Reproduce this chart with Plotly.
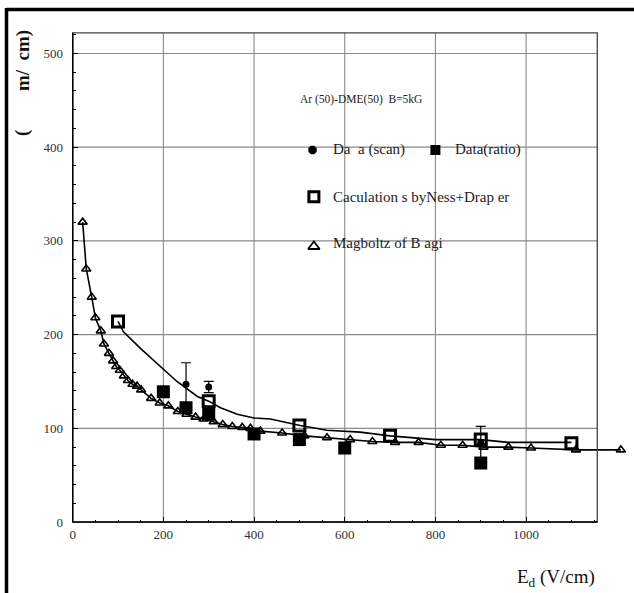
import plotly.graph_objects as go

# ---------------- data ----------------
mag_x = [22, 30, 42, 50, 62, 69, 80, 89, 96, 104, 113, 122, 132, 142, 151, 173, 192, 211,
         232, 251, 271, 289, 311, 331, 352, 374, 392, 414, 462, 511, 561, 612, 661, 711,
         763, 812, 860, 906, 961, 1011, 1110, 1209]
mag_y = [320, 270, 240, 218, 204, 190, 180, 172, 166, 162, 156, 151, 147, 145, 141, 132, 127, 124,
         118, 115, 112, 110, 107, 104, 102, 101, 100, 97, 95, 92, 90, 88, 86, 85,
         85, 82, 82, 80, 80, 79, 77, 77]

calc_curve_x = [100, 112, 150, 194, 230, 275, 300, 326, 363, 400, 436, 502, 561, 634, 700, 800, 900, 960, 1100]
calc_curve_y = [214, 203, 185, 166, 150, 134, 129, 122, 115, 111, 110, 103, 98, 96, 92, 88, 88, 85, 85]
calc_x = [100, 300, 500, 700, 900, 1100]
calc_y = [214, 129, 103, 92, 88, 84]

ratio_x = [200, 250, 300, 400, 500, 600, 900]
ratio_y = [139, 122, 115, 94, 88, 79, 63]

scan_x = [250, 300, 900]
scan_y = [147, 144, 85]
scan_err = [23, 6, 17]

x_ticks = [0, 200, 400, 600, 800, 1000]
y_ticks = [0, 100, 200, 300, 400, 500]
x_minor = list(range(0, 1151, 50))
y_minor = list(range(0, 521, 20))

X_FRAME = 1157
Y_FRAME = 522

SERIF = "'Liberation Serif', 'DejaVu Serif', serif"

fig = go.Figure()

fig.add_trace(go.Scatter(
    x=mag_x, y=mag_y, mode="lines+markers",
    line=dict(color="black", width=1.6),
    marker=dict(symbol="triangle-up-open", size=8, color="black", line=dict(width=1.6)),
    cliponaxis=False, showlegend=False))

fig.add_trace(go.Scatter(
    x=calc_curve_x, y=calc_curve_y, mode="lines",
    line=dict(color="black", width=1.6), showlegend=False))

fig.add_trace(go.Scatter(
    x=calc_x, y=calc_y, mode="markers",
    marker=dict(symbol="square-open", size=11, color="black", line=dict(width=3)),
    showlegend=False))

fig.add_trace(go.Scatter(
    x=ratio_x, y=ratio_y, mode="markers",
    marker=dict(symbol="square", size=13, color="black"),
    showlegend=False))

fig.add_trace(go.Scatter(
    x=scan_x, y=scan_y, mode="markers",
    marker=dict(symbol="circle", size=7, color="black"),
    error_y=dict(type="data", array=scan_err, color="black", thickness=1.2, width=5),
    showlegend=False))

# legend keys (drawn inside the plot like the original)
legend_keys = [
    dict(x=529, y=397, symbol="octagon", size=9, lw=0),
    dict(x=800, y=397, symbol="square", size=10, lw=0),
    dict(x=532, y=347, symbol="square-open", size=10, lw=3),
    dict(x=532, y=294, symbol="triangle-up-open", size=10, lw=1.8),
]
for k in legend_keys:
    fig.add_trace(go.Scatter(
        x=[k["x"]], y=[k["y"]], mode="markers",
        marker=dict(symbol=k["symbol"], size=k["size"], color="black", line=dict(width=k["lw"], color="black")),
        showlegend=False, hoverinfo="skip"))

shapes = []
for xv in x_ticks[1:]:
    shapes.append(dict(type="line", xref="x", yref="y", x0=xv, x1=xv, y0=0, y1=Y_FRAME,
                       line=dict(color="#8a8a8a", width=1.1), layer="below"))
for yv in y_ticks[1:]:
    shapes.append(dict(type="line", xref="x", yref="y", x0=0, x1=X_FRAME, y0=yv, y1=yv,
                       line=dict(color="#8a8a8a", width=1.1), layer="below"))
# plot frame
shapes.append(dict(type="rect", xref="x", yref="y", x0=0, x1=X_FRAME, y0=0, y1=Y_FRAME,
                   line=dict(color="#444444", width=1.3), layer="above"))
shapes.append(dict(type="line", xref="x", yref="y", x0=0, x1=X_FRAME, y0=0, y1=0,
                   line=dict(color="black", width=1.6), layer="above"))
shapes.append(dict(type="line", xref="x", yref="y", x0=0, x1=0, y0=0, y1=Y_FRAME,
                   line=dict(color="black", width=1.6), layer="above"))
# outer page frame (top and left thick lines)
L, T = 72, 30
W, H = 634 - 72, 593 - 30 - 70
def px(xp):
    return (xp - L) / W
def py(yp):
    return (593 - 70 - yp) / H
shapes.append(dict(type="line", xref="paper", yref="paper", x0=px(6.5), x1=px(640), y0=py(9.5), y1=py(9.5),
                   line=dict(color="black", width=3.5)))
shapes.append(dict(type="line", xref="paper", yref="paper", x0=px(6.5), x1=px(6.5), y0=py(8), y1=py(600),
                   line=dict(color="black", width=3.5)))

LEG = dict(family=SERIF, size=15, color="#222")
annotations = [
    dict(x=498, y=451, xref="x", yref="y", text="Ar (50)-DME(50)  B=5kG", showarrow=False,
         xanchor="left", yanchor="middle", font=dict(family=SERIF, size=11.5, color="#222")),
    dict(x=570, y=397, xref="x", yref="y", text="Da  a (scan)", showarrow=False,
         xanchor="left", yanchor="middle", font=LEG),
    dict(x=839, y=397, xref="x", yref="y", text="Data(ratio)", showarrow=False,
         xanchor="left", yanchor="middle", font=LEG),
    dict(x=570, y=347, xref="x", yref="y", text="Caculation s byNess+Drap er", showarrow=False,
         xanchor="left", yanchor="middle", font=LEG),
    dict(x=570, y=298, xref="x", yref="y", text="Magboltz of B agi", showarrow=False,
         xanchor="left", yanchor="middle", font=LEG),
    dict(x=px(597), y=py(578), xref="paper", yref="paper", text="E<sub>d</sub> (V/cm)", showarrow=False,
         xanchor="right", yanchor="middle", font=dict(family=SERIF, size=19, color="#111")),
    dict(x=px(23), y=py(61), xref="paper", yref="paper", text="<b>m/  cm)</b>", showarrow=False,
         textangle=-90, xanchor="center", yanchor="middle", font=dict(family=SERIF, size=19, color="#111")),
    dict(x=px(22), y=py(133), xref="paper", yref="paper", text="<b>(</b>", showarrow=False,
         textangle=-90, xanchor="center", yanchor="middle", font=dict(family=SERIF, size=19, color="#111")),
]

fig.update_layout(
    width=634, height=593,
    margin=dict(l=L, r=0, t=T, b=70),
    paper_bgcolor="white", plot_bgcolor="white",
    showlegend=False,
    font=dict(family=SERIF),
    shapes=shapes, annotations=annotations,
    xaxis=dict(range=[-1.5, 1238], showgrid=False, zeroline=False, showline=False,
               tickmode="array", tickvals=x_ticks, ticktext=[str(v) for v in x_ticks],
               ticks="inside", ticklen=6, tickwidth=1, tickcolor="black",
               minor=dict(tickmode="array", tickvals=x_minor, ticks="inside", ticklen=3, tickcolor="black"),
               tickfont=dict(family=SERIF, size=13, color="#333"), ticklabelstandoff=2),
    yaxis=dict(range=[-1, 525], showgrid=False, zeroline=False, showline=False,
               tickmode="array", tickvals=y_ticks, ticktext=[str(v) for v in y_ticks],
               ticks="inside", ticklen=6, tickwidth=1, tickcolor="black",
               minor=dict(tickmode="array", tickvals=y_minor, ticks="inside", ticklen=4, tickcolor="black"),
               tickfont=dict(family=SERIF, size=13, color="#333"), ticklabelstandoff=8),
)

fig.write_html("out.html")
